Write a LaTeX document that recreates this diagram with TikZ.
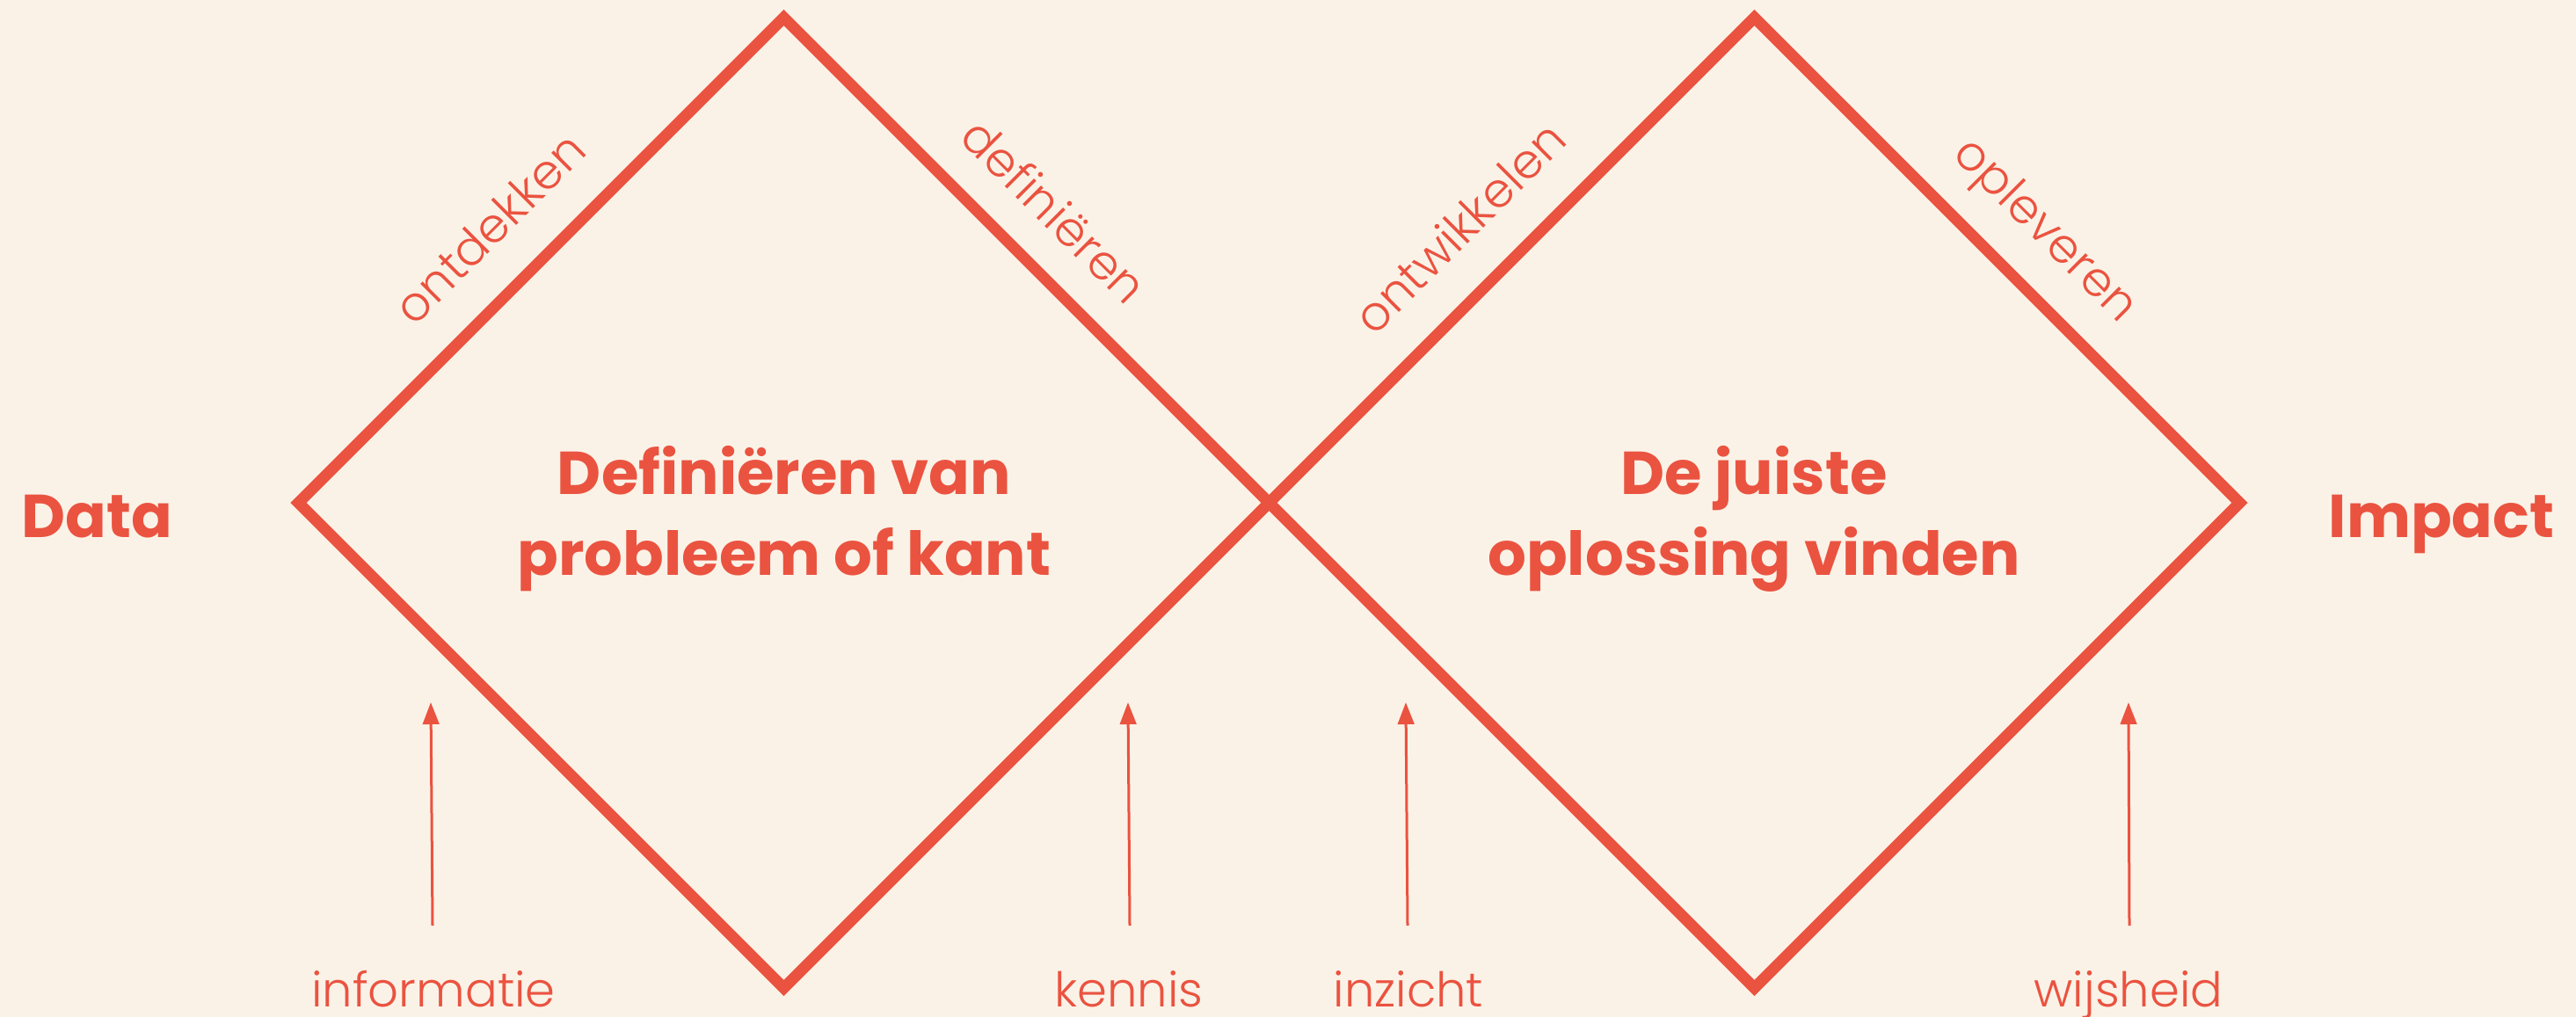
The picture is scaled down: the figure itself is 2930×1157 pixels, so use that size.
\documentclass[tikz,border=0pt]{standalone}
\usepackage{fontspec}
\setmainfont{Poppins}[BoldFont={Poppins Bold}]
\newfontfamily\plight{Poppins Light}
\usetikzlibrary{arrows.meta}
\definecolor{bgc}{HTML}{FBF2E7}
\definecolor{redc}{HTML}{EA5340}
\begin{document}
\begin{tikzpicture}[x=0.1mm,y=-0.1mm,
  diamondline/.style={draw=redc,line width=1.3mm,line join=miter},
  bigtext/.style={text=redc,font=\fontsize{19.6pt}{25.9pt}\selectfont\bfseries,inner sep=0pt,anchor=base},
  smalltext/.style={text=redc,font=\fontsize{15.5pt}{19pt}\selectfont\plight,inner sep=0pt,anchor=base},
  arr/.style={draw=redc,line width=0.3mm,-{Triangle[length=2.5mm,width=1.85mm]}}]
\fill[bgc] (0,0) rectangle (2930,1157);
\useasboundingbox (0,0) rectangle (2930,1157);
% diamond vertices
\coordinate (L1) at (339.5,572);
\coordinate (T1) at (891.5,20);
\coordinate (M) at (1443.5,572);
\coordinate (B1) at (891.5,1124);
\coordinate (T2) at (1995.5,20);
\coordinate (R2) at (2547.5,572);
\coordinate (B2) at (1995.5,1124);
\draw[diamondline] (L1) -- (T1) -- (M) -- (B1) -- cycle;
\draw[diamondline] (M) -- (T2) -- (R2) -- (B2) -- cycle;
% main texts
\node[bigtext] (data) at (110,611) {Data};
\node[bigtext] (impact) at (2777,611) {Impact};
\node[bigtext] (t1a) at (892,563) {Definiëren van};
\node[bigtext] (t1b) at (892,654) {probleem of kant};
\node[bigtext] (t2a) at (1995,563) {De juiste};
\node[bigtext] (t2b) at (1995,654) {oplossing vinden};
% edge labels
\node[smalltext,rotate=45] (ontdekken) at (571,273) {ontdekken};
\node[smalltext,rotate=-45] (definieren) at (1185,254) {definiëren};
\node[smalltext,rotate=45] (ontwikkelen) at (1674,273) {ontwikkelen};
\node[smalltext,rotate=-45] (opleveren) at (2315,273) {opleveren};
% bottom labels
\node[smalltext] (informatie) at (493,1145) {informatie};
\node[smalltext] (kennis) at (1284,1145) {kennis};
\node[smalltext] (inzicht) at (1602,1145) {inzicht};
\node[smalltext] (wijsheid) at (2421,1145) {wijsheid};
% arrow tips
\coordinate (tipA) at (490,799);
\coordinate (tipB) at (1283,799);
\coordinate (tipC) at (1599,799);
\coordinate (tipD) at (2421,799);
\draw[arr] (informatie.base -| 492,0) ++(0,-92) -- (tipA);
\draw[arr] (kennis.base -| 1285,0) ++(0,-92) -- (tipB);
\draw[arr] (inzicht.base -| 1601,0) ++(0,-92) -- (tipC);
\draw[arr] (wijsheid.base -| 2422,0) ++(0,-92) -- (tipD);
\end{tikzpicture}
\end{document}
